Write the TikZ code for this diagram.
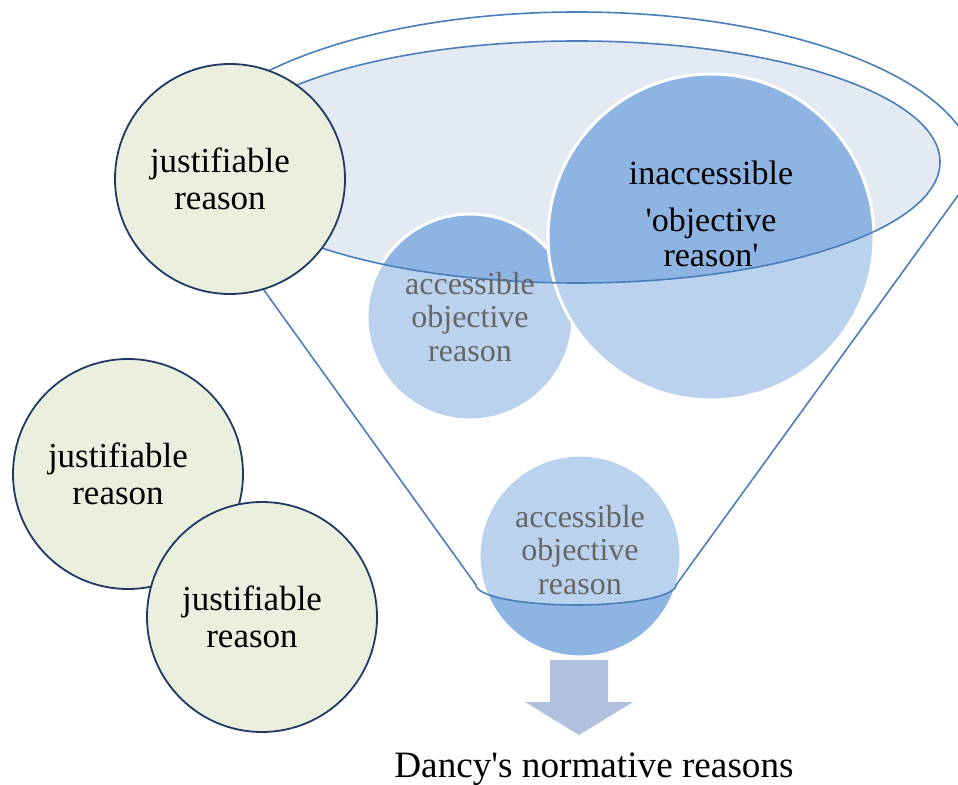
\documentclass[tikz,border=0pt]{standalone}
\usepackage{fontspec}
\setmainfont{Liberation Serif}
\definecolor{fnlline}{HTML}{4A7EBB}
\definecolor{fnlrim}{HTML}{E4EAF4}
\definecolor{fnlball}{HTML}{8EB4E3}
\definecolor{fnlarrow}{HTML}{AFC1DD}
\definecolor{fnltext}{HTML}{666666}
\definecolor{jusfill}{HTML}{EAF0DD}
\definecolor{jusline}{HTML}{1F3864}
\tikzset{
  ball/.style={circle, fill=fnlball, draw=white, line width=1.5pt, inner sep=0pt},
  balltext/.style={align=center, text=fnltext, font=\fontsize{16}{16.75}\selectfont},
  justext/.style={align=center, xshift=-5pt, font=\fontsize{17.5}{18.5}\selectfont},
  jusball/.style={circle, fill=jusfill, draw=jusline, line width=0.9pt, minimum size=115pt,
    label={[justext]center:justifiable\\reason}},
}

\begin{document}
\begin{tikzpicture}[x=0.5pt, y=-0.5pt]
  \useasboundingbox (0,0) rectangle (958,785);

  % Inner rim of the funnel
  \fill[fnlrim] (577,162) ellipse [x radius=181.5pt, y radius=60.5pt];

  % Balls inside the funnel
  \node[ball, minimum size=103pt] (accmid) at (470,317) {};
  \node[ball, minimum size=163pt] (inacc) at (711,237) {};
  \node[ball, minimum size=101pt] (accbot) at (580,556) {};

  % Funnel body, lightens what lies behind it
  \fill[white, opacity=0.4, even odd rule]
    (975,172) arc[start angle=0, end angle=180, x radius=199pt, y radius=80pt]
    -- (476,585) arc[start angle=180, end angle=360, x radius=50pt, y radius=10pt]
    -- cycle
    (577,162) ellipse [x radius=181.5pt, y radius=60.5pt];

  % Funnel outline
  \draw[fnlline, line width=0.8pt]
    (975,172) arc[start angle=0, end angle=180, x radius=199pt, y radius=80pt]
    -- (476,585) arc[start angle=180, end angle=360, x radius=50pt, y radius=10pt]
    -- cycle;
  \draw[fnlline, line width=0.8pt] (577,162) ellipse [x radius=181.5pt, y radius=60.5pt];

  % Texts of the balls
  \node[balltext] at (accmid) {accessible\\objective\\reason};
  \node[balltext] at ([yshift=3pt]accbot) {accessible\\objective\\reason};
  \node[align=center, font=\fontsize{17}{17.5}\selectfont] at (711,214)
    {inaccessible\\[6pt]\textquotesingle objective\\reason\textquotesingle};

  % Justifiable reasons
  \node[jusball] (justop) at (230,179) {};
  \node[jusball] (jusmid) at (128,474) {};
  \node[jusball] (jusbot) at (262,617) {};

  % Output arrow and result
  \fill[fnlarrow] (550,660) -- (608,660) -- (608,702) -- (633,702) -- (579,735)
    -- (525,702) -- (550,702) -- cycle;
  \node[anchor=base, font=\fontsize{18.6}{20}\selectfont] (result) at (594,777)
    {Dancy\textquotesingle s normative reasons};
\end{tikzpicture}
\end{document}
